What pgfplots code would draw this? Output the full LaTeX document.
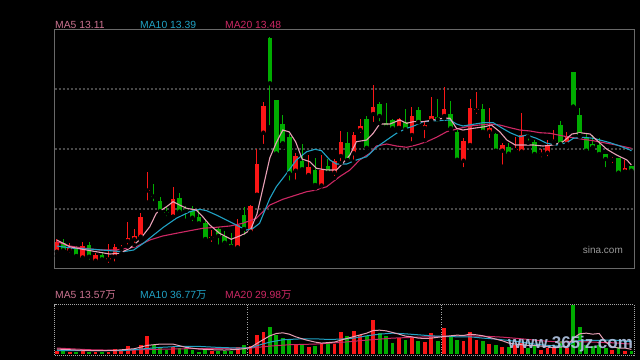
\documentclass[border=0pt]{standalone}
\usepackage{fontspec}
\setmainfont{Liberation Sans}
\newfontfamily\cjk{Noto Sans CJK SC}
\usepackage{pgfplots}
\usepackage{pgfplotstable}
\pgfplotsset{compat=1.18}
\definecolor{kred}{RGB}{250,22,22}
\definecolor{kgreen}{RGB}{0,172,0}
\definecolor{ma5}{RGB}{232,160,182}
\definecolor{ma5t}{RGB}{205,115,145}
\definecolor{ma10}{RGB}{32,162,196}
\definecolor{ma20}{RGB}{205,40,100}
\definecolor{framec}{RGB}{105,105,105}
\definecolor{gridc}{RGB}{72,72,72}
\definecolor{wm}{RGB}{178,198,228}

% candles: i open high low close (price units of the chart, unlabelled scale)
\pgfplotstableread{
i o h l c
0 48.3 60.7 44 58.3
2 49.5 57.3 45 52
4 42.5 58 41 54
6 39.3 47.3 37 45
8 40.5 56 35 42.5
9 43.3 56 36.5 52.7
10 51.5 55.5 46.7 52.5
11 59 78.3 53.5 61.7
12 60.7 71.5 55 64
13 63.3 86.7 60 83
14 109.5 128.5 97.5 110.5
18 83.3 112.7 83.3 100.7
24 61.8 70 56 62.8
28 52.5 80.7 52.5 75.5
30 68.3 95 67.3 94
31 105.3 150.5 105 136
32 167.3 198.3 154 194
37 129.3 146.7 118.3 144
39 125 144.5 123.3 132.5
41 114.5 145 109.5 130.3
43 127.3 141 122 139.3
44 144 169.3 137 158.2
46 146.7 168.3 138.3 165
47 170 180.7 165 174
49 186 215 176 193.3
53 172.2 182 168.3 180.7
55 165 193.3 156.7 184
57 172.2 178.3 159.7 175
58 179.3 203.3 178.3 184
60 184 212.7 181.7 190.7
63 139.3 162 130.7 159
64 155 200.5 153.3 191.7
65 189.5 208.3 184 190.5
67 168.3 192 160 172
69 149.3 156.7 133.3 155
71 150 162.7 149.3 151
72 148.3 187.3 148.3 164.5
75 145.5 150.7 140.7 146.5
76 147.3 160 141.7 155
77 158.5 170 156.7 159.5
79 156 168.3 153.3 162.7
86 140.2 143.3 135 141.2
88 128.3 140 128.3 132
}\redK

\pgfplotstableread{
i o h l c
1 57.3 61.5 48 49.7
3 51 54 43 44
5 55 58 38.3 43.3
7 45 48.3 39.3 40.7
15 104.5 116.3 96.7 103.5
16 99 103.3 87.3 88.7
17 88.3 94 81.7 86.7
19 102.3 106.7 86.7 88.3
20 91 94 79.3 89
21 89.5 94 76.7 82.3
22 83.3 90.7 76 76.7
23 76.7 80 59.5 61
25 70.7 73.3 53.3 64
26 64 69 53.3 57.3
27 56 67 50.7 53.3
29 85 93.3 63 71
33 262.3 263 172.7 216.7
34 200 200 146 146.5
35 176 185 152.5 156.7
36 162.7 166.3 117.3 126.7
38 139.3 156.3 127.5 130.8
40 130.3 141.7 111.7 115
42 134 141 124 127.3
45 156.7 168.3 140 140
48 180.7 184 151.5 152.2
50 196.3 198.3 176.7 184
51 177 196.7 171.7 173
52 180 180.7 170 171.7
54 178.3 191 168.3 170.7
56 190 193.3 173.3 178
59 183.3 200.5 176 180.7
61 186 199.3 170 171.7
62 168.3 170 137.3 140.3
66 190.7 196 167.3 168.3
68 166.3 167.3 147.3 149.3
70 153 156.7 144 146.3
73 164.5 166 157.3 163.5
74 158.3 160 145 146
78 175 179 155 156
80 228.3 228.3 193.3 193.3
81 185 191.7 163.3 165
82 161.7 167.3 147.3 149.3
83 156 165 149.3 152.7
84 155 161.7 145 146
85 146 146 130.7 141
87 142.3 142.3 126.7 127.3
89 134 134 128.3 129.3
}\greenK

% volume (in 10k shares)
\pgfplotstableread{
i v
0 8
2 7
4 8
6 5
8 6
9 15
10 9
11 25
12 13
13 26
14 55
18 22
24 10
28 21
30 23
31 58
32 68
37 30
39 21
41 33
43 30
44 68
46 70
47 58
49 103
53 48
55 51
57 37
58 64
60 78
63 38
64 66
65 43
67 31
69 21
71 28
72 33
75 13
76 18
77 18
79 18
86 13
88 10
}\volR

\pgfplotstableread{
i v
1 8
3 6
5 7
7 6
15 28
16 20
17 13
19 18
20 16
21 13
22 7
23 13
25 10
26 10
27 10
29 28
33 81
34 56
35 48
36 41
38 28
40 25
42 33
45 55
48 55
50 63
51 55
52 33
54 43
56 40
59 38
61 50
62 43
66 38
68 28
70 20
73 18
74 28
78 38
80 148
81 81
82 28
83 23
84 28
85 18
87 20
89 8
}\volG

\begin{document}
\begin{tikzpicture}[x=1bp,y=1bp]
\useasboundingbox (0,0) rectangle (640,360);
\fill[black] (0,0) rectangle (640,360);

% ---------------- price panel ----------------
\begin{axis}[
  at={(54.5bp,92bp)}, anchor=south west,
  width=579.5bp, height=238.7bp, scale only axis,
  xmin=-0.36, xmax=89.4, ymin=32, ymax=270.7,
  axis line style={draw=framec, line width=1bp},
  xtick=\empty, ytick={91,151,211}, yticklabel=\empty,
  major tick length=0pt,
  ymajorgrids, grid style={draw=gridc, line width=1.4bp, dash pattern=on 2bp off 2bp},
]
% wicks
\addplot[only marks, mark=none, forget plot,
  error bars/.cd, y dir=plus, y explicit, error mark=none,
  error bar style={draw=kred, line width=1bp}]
  table[x=i, y=l, y error plus expr={\thisrow{h}-\thisrow{l}}] {\redK};
\addplot[only marks, mark=none, forget plot,
  error bars/.cd, y dir=plus, y explicit, error mark=none,
  error bar style={draw=kgreen, line width=1bp}]
  table[x=i, y=l, y error plus expr={\thisrow{h}-\thisrow{l}}] {\greenK};
% bodies
\addplot[only marks, mark=none, forget plot,
  error bars/.cd, y dir=plus, y explicit, error mark=none,
  error bar style={draw=kred, line width=4.6bp}]
  table[x=i, y=o, y error plus expr={\thisrow{c}-\thisrow{o}}] {\redK};
\addplot[only marks, mark=none, forget plot,
  error bars/.cd, y dir=plus, y explicit, error mark=none,
  error bar style={draw=kgreen, line width=4.6bp}]
  table[x=i, y=c, y error plus expr={\thisrow{o}-\thisrow{c}}] {\greenK};
% moving averages
\addplot[ma20, line width=1.1bp, mark=none] coordinates {
(0,58.3) (2,54) (4,52) (6.6,50) (9.2,50) (12.3,53.3) (14.4,60) (16.4,64) (18.5,66.7) (20.6,69.3) (22.6,71.7) (24.7,72.7) (26.8,74) (28.8,76.7) (30.9,81.7) (33,95) (35,100.7) (36.6,104) (38.7,108.3) (40.2,110) (41.8,113.3) (43.8,123.3) (45.4,130) (46.9,140) (48.5,146.7) (49.5,154) (51.1,156) (52.6,154) (54.2,152.7) (55.7,155) (57.3,158.3) (58.8,162.7) (60.4,168.3) (62.4,171.7) (64,174) (65.5,175) (67.1,176) (68.6,175) (70.2,172.3) (71.7,170) (73.3,169) (74.8,167.3) (76.4,166.7) (78.4,164) (80,162.3) (81.5,160.7) (83.1,159.3) (84.7,157.3) (86.7,155) (89,151.7)};
\addplot[ma10, line width=1.1bp, mark=none] coordinates {
(0,54) (2.6,51.7) (5.7,50.7) (8.8,49) (10.3,48.3) (11.9,50) (13.4,56.7) (15,65) (16.5,72.7) (18.5,81.7) (20.6,88.3) (22.1,90.7) (23.2,89.3) (24.7,85) (26.8,78.3) (28.3,73.3) (29.4,70) (30.4,71.7) (31.4,76.7) (33,101.7) (34,113.3) (35.6,126.7) (37.1,140) (38.7,148.3) (40,150.7) (41,149.3) (42.3,140) (43.3,136) (44.9,136) (46.4,140) (48,143.3) (49.5,152.7) (51.1,160) (52.6,166.7) (54.2,171.7) (55.7,175) (56.7,178.3) (58.8,179.3) (60.9,180) (61.9,176) (62.9,174) (64.5,175.7) (66,177.3) (67.6,177.3) (68.6,173.3) (70.2,167.3) (71.7,163.3) (72.8,165) (74.3,161.7) (75.9,156.7) (77.4,155) (79,157.3) (80,161.7) (81.6,162.7) (83.1,161.7) (84.1,160) (85.7,157.3) (87.2,154) (88.8,150) (89,149)};
\addplot[ma5, line width=1.1bp, mark=none] coordinates {
(0,60) (2,53.3) (4,50.7) (6.1,48.3) (8.2,46) (9.7,46.7) (11.3,51.7) (12.8,60) (14.4,73.3) (15.4,86.7) (17,93.3) (18,98.3) (19,95) (20.1,91.7) (21.6,90) (22.6,83.3) (23.7,75) (25.2,66.7) (27,60.7) (28.3,64) (29,66) (30,70.2) (31,86) (32,114) (33,142.3) (34,157.4) (35,170) (36,168.1) (37,158.1) (38,140.9) (39.2,138.3) (40.2,131.7) (41.8,130) (43.3,130) (44.3,136.7) (45.4,145) (46.4,158.3) (48,160) (49,166.7) (50,176) (51.6,176) (53.1,180) (54.2,176.7) (55.2,178.3) (56.7,178.3) (58.3,180) (59.8,181.7) (60.9,181.7) (61.9,171.7) (62.9,170) (64.5,171.7) (66.3,173.3) (67.3,175) (68.6,168.3) (69.7,160) (71,155) (72.2,155) (73.8,155) (75.3,154) (76.9,155) (78.4,158.3) (79.8,166) (81,167.3) (82.6,166) (83.6,160) (85.2,150.7) (86.7,145) (88.3,140) (89,135)};
\end{axis}

% ---------------- volume panel ----------------
\begin{axis}[
  at={(54.5bp,5bp)}, anchor=south west,
  width=579.5bp, height=50.3bp, scale only axis,
  xmin=-0.36, xmax=89.4, ymin=-3, ymax=149,
  axis line style={draw=gray!70, line width=0.9bp, dash pattern=on 1bp off 1bp},
  xtick={29.5,59.5}, xticklabel=\empty, ytick=\empty,
  major tick length=0pt,
  xmajorgrids, grid style={draw=gray!70, line width=0.9bp, dash pattern=on 1bp off 1.5bp},
]
\addplot[ycomb, draw=kred, line width=3.8bp, mark=none] table[x=i, y=v] {\volR};
\addplot[ycomb, draw=kgreen, line width=3.8bp, mark=none] table[x=i, y=v] {\volG};
\addplot[ma20, line width=1bp, mark=none] coordinates {
(0,18) (5,13) (10,11) (15,14) (20,16) (25,17) (30,18) (33,24) (36,28) (40,30) (44,35) (48,42) (52,48) (56,51) (60,54) (63,55) (66,54) (69,51) (72,46) (75,40) (78,36) (80,38) (83,36) (86,34) (89,30)};
\addplot[ma10, line width=1bp, mark=none] coordinates {
(0,10) (5,10) (10,10) (13,15) (16,20) (19,23) (22,23) (25,20) (28,18) (30,19) (31.5,28) (33,36) (35,43) (38,46) (40,46) (42,44) (44,45) (46,48) (48,55) (50,60) (52,63) (54,61) (56,58) (58,55) (60,53) (62,52) (64,52) (66,48) (68,45) (70,41) (72,36) (74,30) (76,26) (78,24) (79,23) (80,36) (81,41) (83,41) (85,42) (87,41.5) (88,38.7) (89,37.7)};
\addplot[ma5, line width=1bp, mark=none] coordinates {
(0,15) (3,12) (6,10) (9,11) (12,16) (14,26) (16,30) (18,30) (20,20) (22,15) (24,13) (26,12) (28,14) (29,16) (30,20) (31.5,38) (33,55) (34,62) (35,64) (36,60) (37,52) (38.5,43) (40,36) (41,33) (43,36) (44,42) (45.5,50) (47,58) (48,63) (49,71) (50,72) (51,70) (52,65) (53,60) (54,54) (55,52) (56,48) (57,47) (58,48) (60,53) (61,55) (62,57) (63,56) (64,60) (65,58) (66,55) (67,50) (68,45) (69,40) (70,33) (71,30) (72,28) (73,26) (74,26) (75,24) (76,22) (77,19) (78,21) (79,22) (80,48) (81,61) (82,63) (83,60) (84,62) (85,36) (86,22) (87,18) (88,18) (89,14)};
\end{axis}

% ---------------- texts ----------------
\begin{scope}[every node/.style={inner sep=0pt, font=\fontsize{10.4}{12}\selectfont}]
\node[anchor=base west, text=ma5t] at (55,332) {MA5 13.11};
\node[anchor=base west, text=ma10] at (140,332) {MA10 13.39};
\node[anchor=base west, text=ma20] at (225,332) {MA20 13.48};
\node[anchor=base west, text=ma5t] at (55,62) {MA5 13.57{\cjk 万}};
\node[anchor=base west, text=ma10] at (140,62) {MA10 36.77{\cjk 万}};
\node[anchor=base west, text=ma20] at (225,62) {MA20 29.98{\cjk 万}};
\node[anchor=base east, text=gray!80, font=\fontsize{10}{12}\selectfont] at (623,107) {sina.com};
\end{scope}
\node[anchor=base east, inner sep=0pt, text=wm, opacity=0.9, font=\fontsize{17}{18}\selectfont\bfseries] at (633,12) {www.365jz.com};
\end{tikzpicture}
\end{document}
